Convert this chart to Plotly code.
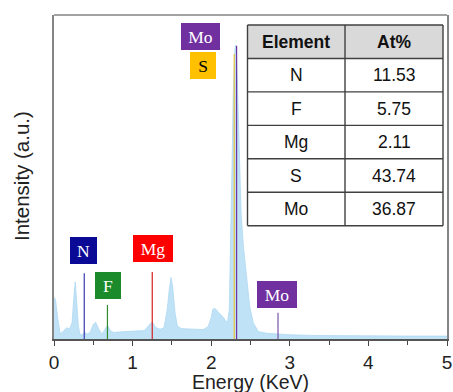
import plotly.graph_objects as go

# ---- spectrum data (intensity in arbitrary units, axis 0-100) ----
energy_kev = [0.00, 0.02, 0.05, 0.08, 0.12, 0.16, 0.20, 0.23, 0.25, 0.27, 0.29, 0.31, 0.33,
              0.36, 0.39, 0.42, 0.46, 0.50, 0.53, 0.57, 0.61, 0.65, 0.68, 0.72, 0.76, 0.85,
              1.00, 1.15, 1.20, 1.25, 1.29, 1.35, 1.40, 1.44, 1.47, 1.49, 1.51, 1.54, 1.57,
              1.62, 1.80, 1.90, 1.96, 2.00, 2.02, 2.05, 2.08, 2.13, 2.16, 2.19, 2.21, 2.23, 2.25,
              2.26, 2.27, 2.28, 2.29, 2.30, 2.31, 2.32, 2.33, 2.34, 2.35, 2.36, 2.38, 2.41,
              2.45, 2.49, 2.535, 2.60, 2.70, 2.85, 3.00, 3.30, 3.60, 4.00, 4.50, 5.00]
intensity = [13.0, 12.0, 6.0, 1.5, 2.5, 3.4, 3.2, 5.0, 12.0, 17.6, 11.0, 4.0, 1.5,
             1.2, 2.2, 1.5, 2.0, 4.5, 5.2, 3.0, 1.5, 3.0, 4.2, 2.5, 2.0, 2.2,
             2.4, 2.6, 4.0, 5.3, 3.6, 3.0, 3.5, 9.0, 16.0, 19.0, 16.0, 8.0, 4.0,
             3.2, 3.0, 2.9, 3.8, 6.5, 9.2, 9.4, 8.6, 7.4, 6.5, 5.3, 5.5, 9.0, 30.0,
             45.0, 60.0, 75.0, 85.0, 89.0, 90.7, 88.0, 82.0, 72.0, 60.0, 50.0, 39.0, 28.5,
             18.0, 10.0, 5.0, 2.3, 1.8, 1.5, 1.3, 1.1, 1.0, 0.9, 0.9, 0.9]

# ---- element marker lines ----
line_elements = ["N", "F", "Mg", "S", "Mo", "Mo"]
line_energy = [0.385, 0.68, 1.25, 2.293, 2.323, 2.85]
line_top = [20.3, 10.5, 20.7, 88.0, 90.5, 8.1]
line_colors = ["#3b3bb0", "#2e8b2e", "#d42020", "#e8c040", "#6a35a0", "#7a55a8"]

# ---- element label boxes ----
label_text = ["N", "F", "Mg", "Mo", "S", "Mo"]
label_x = [0.373, 0.687, 1.26, 2.837, 1.896, 1.864]
label_y = [27.2, 16.5, 27.9, 13.6, 84.3, 93.4]
label_w = [27, 26, 40, 40, 26, 39]
label_bg = ["#0a0a96", "#1a8a2a", "#ff0000", "#7030a0", "#ffc000", "#7030a0"]
label_fg = ["white", "white", "white", "white", "black", "white"]

# ---- composition table ----
table_header = ["Element", "At%"]
table_elements = ["N", "F", "Mg", "S", "Mo"]
table_at_pct = ["11.53", "5.75", "2.11", "43.74", "36.87"]

fig = go.Figure()
fig.add_trace(go.Scatter(
    x=energy_kev, y=intensity, mode="lines", fill="tozeroy",
    fillcolor="#bfe2f6", line=dict(color="#aed8f2", width=0.8),
    hoverinfo="skip", showlegend=False))

for e, xv, top, c in zip(line_elements, line_energy, line_top, line_colors):
    fig.add_trace(go.Scatter(x=[xv, xv], y=[0, top], mode="lines",
                             line=dict(color=c, width=1.2), showlegend=False,
                             hoverinfo="skip", name=e))

annotations = []
for t, xv, yv, w, bg, fg in zip(label_text, label_x, label_y, label_w, label_bg, label_fg):
    annotations.append(dict(x=xv, y=yv, xref="x", yref="y", text=t, showarrow=False,
                            width=w, height=27, bgcolor=bg, borderpad=0, borderwidth=0,
                            font=dict(family="Liberation Serif", size=17.5, color=fg)))

# plot-area pixel geometry -> paper coords
W_PX, H_PX = 453, 392
L, T, R, B = 54, 15, 447, 339
def xp(px):
    return (px - L) / (R - L)
def yp(py):
    return (B - py) / (B - T)

tx0, tx1, tx2 = 247.5, 345, 443
ty0 = 25
rh = 33.45
nrows = len(table_elements) + 1
shapes = []
shapes.append(dict(type="rect", xref="paper", yref="paper", x0=xp(tx0), x1=xp(tx2),
                   y0=yp(ty0 + rh), y1=yp(ty0), fillcolor="#d9d9d9", line=dict(width=0),
                   layer="above"))
shapes.append(dict(type="rect", xref="paper", yref="paper", x0=xp(tx0), x1=xp(tx2),
                   y0=yp(ty0 + rh * nrows), y1=yp(ty0 + rh), fillcolor="white",
                   line=dict(width=0), layer="above"))
for i in range(nrows + 1):
    yy = yp(ty0 + rh * i)
    shapes.append(dict(type="line", xref="paper", yref="paper", x0=xp(tx0), x1=xp(tx2),
                       y0=yy, y1=yy, line=dict(color="#404040", width=1.4), layer="above"))
for xx in (tx0, tx1, tx2):
    shapes.append(dict(type="line", xref="paper", yref="paper", x0=xp(xx), x1=xp(xx),
                       y0=yp(ty0), y1=yp(ty0 + rh * nrows),
                       line=dict(color="#404040", width=1.4), layer="above"))
shapes.append(dict(type="line", xref="paper", yref="paper", x0=0, x1=1, y0=1, y1=1,
                   line=dict(color="#858585", width=1.5)))

rows = [table_header] + [[e, v] for e, v in zip(table_elements, table_at_pct)]
for i, row in enumerate(rows):
    for j, cell in enumerate(row):
        cx = (tx0 + tx1) / 2 if j == 0 else (tx1 + tx2) / 2
        cy = ty0 + rh * (i + 0.5)
        txt = f"<b>{cell}</b>" if i == 0 else cell
        annotations.append(dict(x=xp(cx), y=yp(cy), xref="paper", yref="paper",
                                xanchor="center", yanchor="middle",
                                text=txt, showarrow=False,
                                font=dict(family="Liberation Sans", size=17.5, color="#111")))

annotations.append(dict(x=xp(250), y=yp(381.5), xref="paper", yref="paper",
                        xanchor="center", yanchor="middle",
                        text="Energy (KeV)", showarrow=False,
                        font=dict(family="Liberation Sans", size=19.5, color="#222")))
annotations.append(dict(x=xp(21.5), y=yp(176.5), xref="paper", yref="paper",
                        xanchor="center", yanchor="middle",
                        text="Intensity (a.u.)", showarrow=False, textangle=-90,
                        font=dict(family="Liberation Sans", size=20.5, color="#222")))

fig.update_layout(
    width=W_PX, height=H_PX,
    margin=dict(l=L, r=W_PX - R, t=T, b=H_PX - B, autoexpand=False),
    paper_bgcolor="white", plot_bgcolor="white",
    font=dict(family="Liberation Sans", size=19, color="#222"),
    shapes=shapes, annotations=annotations,
    xaxis=dict(range=[0, 5], dtick=1, tick0=0, showgrid=False, zeroline=False,
               automargin=False,
               showline=True, linecolor="#555555", linewidth=1.5, mirror=False,
               ticks="outside", ticklen=5, tickwidth=1.2, tickcolor="#444",
               minor=dict(dtick=0.5, ticks="outside", ticklen=4, tickcolor="#444", tickwidth=1),
               tickfont=dict(size=19, color="#222")),
    yaxis=dict(range=[0, 100], showgrid=False, zeroline=False, showticklabels=False,
               automargin=False,
               ticks="", showline=True, linecolor="#858585", linewidth=1.5, mirror=True),
)

fig.write_html("out.html", config={"displayModeBar": False},
               post_script="document.body.style.margin='0';document.body.style.overflow='hidden';")
